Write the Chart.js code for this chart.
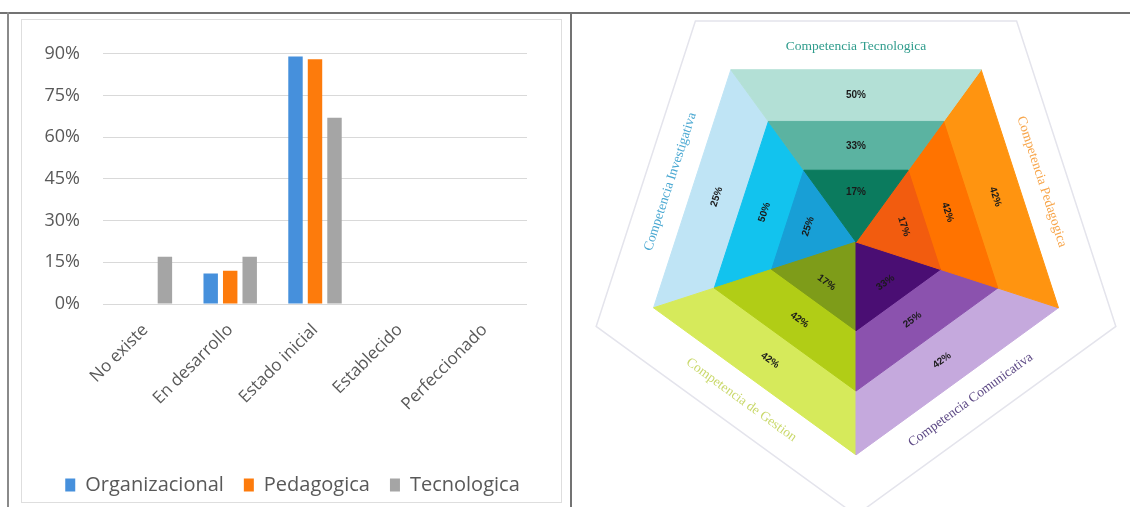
<!DOCTYPE html>
<html lang="es">
<head>
    <meta charset="UTF-8">
    <title>Competencias</title>
    <style>
        body {
            margin: 0;
            width: 1130px;
            height: 507px;
            background: #fff;
            overflow: hidden;
            position: relative;
            font-family: 'Open Sans', sans-serif;
        }

        .line { position: absolute; background: #737373; z-index: 5; }
        .top { left: 0; top: 12px; width: 1130px; height: 2px; }
        .left { left: 7px; top: 12px; width: 2px; height: 495px; background: #8a8a8a; }
        .mid { left: 570px; top: 12px; width: 2px; height: 495px; }

        #barBox {
            position: absolute;
            left: 21px;
            top: 19px;
            width: 541px;
            height: 484px;
            border: 1px solid #dedede;
            box-sizing: border-box;
        }

        #pentaBox {
            position: absolute;
            left: 572px;
            top: 0;
            width: 558px;
            height: 507px;
        }
    </style>
    <script src="https://cdn.jsdelivr.net/npm/chart.js"></script>
</head>
<body>
    <div class="line top"></div>
    <div class="line left"></div>
    <div class="line mid"></div>
    <div id="barBox"><canvas id="barChart"></canvas></div>
    <div id="pentaBox"><canvas id="pentaChart"></canvas></div>

    <script>
        // ---- bar chart data ----
        const levels = ['No existe', 'En desarrollo', 'Estado inicial', 'Establecido', 'Perfeccionado'];
        const organizacional = [0, 11, 89, 0, 0];
        const pedagogica = [0, 12, 88, 0, 0];
        const tecnologica = [17, 17, 67, 0, 0];
        const yTicks = [0, 15, 30, 45, 60, 75, 90];

        // ---- pentagon data (percent per band, outer -> inner) ----
        const sectors = ['Competencia Tecnologica', 'Competencia Pedagogica', 'Competencia Comunicativa', 'Competencia de Gestion', 'Competencia Investigativa'];
        const pctOuter = [50, 42, 42, 42, 25];
        const pctMiddle = [33, 42, 25, 42, 50];
        const pctInner = [17, 17, 33, 17, 25];

        const grey = '#595959';

        // nudge the legend row to the right, like the original
        const legendShift = {
            id: 'legendShift',
            afterLayout(chart) {
                chart.legend.left += 18;
                chart.legend.right += 18;
            }
        };

        // Bar chart
        new Chart(document.getElementById('barChart'), {
            type: 'bar',
            data: {
                labels: levels,
                datasets: [
                    { label: 'Organizacional', data: organizacional, backgroundColor: '#4690dc' },
                    { label: 'Pedagogica', data: pedagogica, backgroundColor: '#fd7b0c' },
                    { label: 'Tecnologica', data: tecnologica, backgroundColor: '#a5a5a5' }
                ]
            },
            options: {
                responsive: true,
                maintainAspectRatio: false,
                animation: false,
                events: [],
                categoryPercentage: 0.69,
                barPercentage: 0.74,
                layout: { padding: { top: 33, right: 34, left: 0, bottom: -3 } },
                scales: {
                    x: {
                        grid: { display: false },
                        border: { display: false },
                        ticks: {
                            color: grey,
                            font: { family: 'Open Sans', size: 17 },
                            minRotation: 45,
                            maxRotation: 45,
                            padding: 8
                        },
                        afterFit(axis) { axis.height = 151; }
                    },
                    y: {
                        min: 0,
                        max: 90,
                        afterBuildTicks(axis) { axis.ticks = yTicks.map(v => ({ value: v })); },
                        grid: { color: '#d9d9d9', drawTicks: false },
                        border: { display: false },
                        ticks: {
                            color: grey,
                            font: { family: 'Open Sans', size: 18 },
                            padding: 23,
                            callback: v => v + '%'
                        },
                        afterFit(axis) { axis.width = 81; }
                    }
                },
                plugins: {
                    tooltip: { enabled: false },
                    legend: {
                        position: 'bottom',
                        labels: {
                            color: grey,
                            font: { family: 'Open Sans', size: 20 },
                            boxWidth: 10,
                            boxHeight: 13,
                            padding: 20
                        }
                    }
                }
            },
            plugins: [legendShift]
        });

        // Pentagon chart: each band of each sector is a radar polygon
        const ringLevel = [3, 2.1, 1.25]; // outer, middle, inner ring depth
        const bandPct = [pctOuter, pctMiddle, pctInner];
        const bandColors = [
            ['#b3e0d6', '#ff9410', '#c5a9dd', '#d6ea5b', '#bfe4f5'],
            ['#5bb3a1', '#ff7300', '#8b52ae', '#b1cd16', '#12c3ee'],
            ['#0b7b5e', '#f25c0f', '#4a0e73', '#7e9c19', '#189fd6']
        ];
        const titleColors = ['#2f9c8c', '#f7a54a', '#5e4a86', '#c9d86a', '#4aa8d2'];

        const pentaSets = [];
        // inner bands first so they end up drawn on top
        for (let k = 2; k >= 0; k--) {
            sectors.forEach((name, s) => {
                const a = (s + 4) % 5, b = s;
                const data = [0, 0, 0, 0, 0];
                data[a] = ringLevel[k];
                data[b] = ringLevel[k];
                pentaSets.push({
                    label: name + ' ' + bandPct[k][s] + '%',
                    data: data,
                    backgroundColor: bandColors[k][s],
                    borderColor: bandColors[k][s],
                    borderWidth: 1,
                    fill: 'origin',
                    pointRadius: 0
                });
            });
        }
        // faint outer frame
        pentaSets.push({
            label: 'marco',
            data: [3.85, 3.85, 3.85, 3.85, 3.85],
            borderColor: '#e4e4ec',
            borderWidth: 1.5,
            fill: false,
            pointRadius: 0,
            clip: false
        });

        const pentaLabels = {
            id: 'pentaLabels',
            afterDatasetsDraw(chart) {
                const r = chart.scales.r;
                const ctx = chart.ctx;
                const put = (s, v, text, font, color) => {
                    const p1 = r.getPointPositionForValue((s + 4) % 5, v);
                    const p2 = r.getPointPositionForValue(s, v);
                    let ang = Math.atan2(p2.y - p1.y, p2.x - p1.x);
                    if (ang > Math.PI / 2) ang -= Math.PI;
                    if (ang <= -Math.PI / 2) ang += Math.PI;
                    ctx.save();
                    ctx.translate((p1.x + p2.x) / 2, (p1.y + p2.y) / 2);
                    ctx.rotate(ang);
                    ctx.font = font;
                    ctx.fillStyle = color;
                    ctx.textAlign = 'center';
                    ctx.textBaseline = 'middle';
                    ctx.fillText(text, 0, 0);
                    ctx.restore();
                };
                const pctFont = 'bold 10px "Liberation Sans"';
                sectors.forEach((name, s) => {
                    put(s, (ringLevel[0] + ringLevel[1]) / 2, pctOuter[s] + '%', pctFont, '#1a1a1a');
                    put(s, (ringLevel[1] + ringLevel[2]) / 2, pctMiddle[s] + '%', pctFont, '#1a1a1a');
                    put(s, ringLevel[2] * 0.7, pctInner[s] + '%', pctFont, '#1a1a1a');
                    put(s, 3.4, name, '13.5px "Liberation Serif"', titleColors[s]);
                });
            }
        };

        new Chart(document.getElementById('pentaChart'), {
            type: 'radar',
            data: {
                labels: ['', '', '', '', ''],
                datasets: pentaSets
            },
            options: {
                responsive: true,
                maintainAspectRatio: false,
                animation: false,
                events: [],
                layout: { padding: { left: 10, bottom: 23 } },
                elements: { line: { tension: 0 } },
                scales: {
                    r: {
                        min: 0,
                        max: 3.41,
                        startAngle: 36,
                        ticks: { display: false },
                        grid: { display: false },
                        angleLines: { display: false },
                        pointLabels: { display: false }
                    }
                },
                plugins: {
                    legend: { display: false },
                    tooltip: { enabled: false }
                }
            },
            plugins: [pentaLabels]
        });
    </script>
</body>
</html>
